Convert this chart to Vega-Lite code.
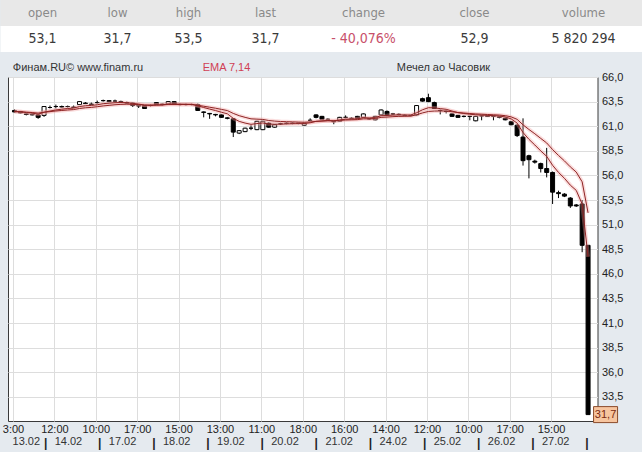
{
  "$schema": "https://vega.github.io/schema/vega-lite/v6.json",
  "background": "#e5eaef",
  "padding": 0,
  "autosize": {"type": "pad"},
  "spacing": 0,
  "bounds": "flush",
  "config": {
    "view": {"stroke": null},
    "text": {"font": "Liberation Sans"},
    "axis": {"labelFont": "Liberation Sans"}
  },
  "datasets": {
    "header": [
      {"c": 0, "label": "open", "value": "53,1"},
      {"c": 1, "label": "low", "value": "31,7"},
      {"c": 2, "label": "high", "value": "53,5"},
      {"c": 3, "label": "last", "value": "31,7"},
      {"c": 4, "label": "change", "value": "- 40,076%"},
      {"c": 5, "label": "close", "value": "52,9"},
      {"c": 6, "label": "volume", "value": "5 820 294"}
    ],
    "caption": [
      {"k": 0, "t": "Финам.RU©  www.finam.ru"},
      {"k": 1, "t": "EMA 7,14"},
      {"k": 2, "t": "Мечел ао Часовик"}
    ],
    "days": [
      {"date": "13.02", "mid": 2.8},
      {"date": "14.02", "mid": 9.8},
      {"date": "17.02", "mid": 18.8},
      {"date": "18.02", "mid": 27.8},
      {"date": "19.02", "mid": 36.8},
      {"date": "20.02", "mid": 45.8},
      {"date": "21.02", "mid": 54.8},
      {"date": "24.02", "mid": 63.8},
      {"date": "25.02", "mid": 72.8},
      {"date": "26.02", "mid": 81.8},
      {"date": "27.02", "mid": 90.8}
    ],
    "dayStarts": [
      {"start": 6}, {"start": 15}, {"start": 24}, {"start": 33}, {"start": 42}, {"start": 51},
      {"start": 60}, {"start": 69}, {"start": 78}, {"start": 87}, {"start": 96}
    ],
    "last": [{"i": 97, "v": 31.7, "t": "31,7"}],
    "candles": [
      {"i":0,"o":62.6,"h":62.7,"l":62.4,"c":62.45,"e7":62.49,"e14":62.49},
      {"i":1,"o":62.5,"h":62.55,"l":62.3,"c":62.35,"e7":62.46,"e14":62.47},
      {"i":2,"o":62.25,"h":62.3,"l":62.1,"c":62.2,"e7":62.39,"e14":62.43},
      {"i":3,"o":62.2,"h":62.3,"l":62.1,"c":62.15,"e7":62.33,"e14":62.39},
      {"i":4,"o":62.15,"h":62.2,"l":61.75,"c":61.9,"e7":62.22,"e14":62.33},
      {"i":5,"o":62.1,"h":63.0,"l":61.95,"c":63.0,"e7":62.42,"e14":62.42},
      {"i":6,"o":62.9,"h":63.1,"l":62.8,"c":62.9,"e7":62.54,"e14":62.48},
      {"i":7,"o":63.0,"h":63.2,"l":62.8,"c":63.0,"e7":62.65,"e14":62.55},
      {"i":8,"o":63.0,"h":63.1,"l":62.9,"c":62.95,"e7":62.73,"e14":62.6},
      {"i":9,"o":63.0,"h":63.1,"l":62.9,"c":63.0,"e7":62.8,"e14":62.65},
      {"i":10,"o":62.9,"h":63.1,"l":62.85,"c":62.95,"e7":62.84,"e14":62.69},
      {"i":11,"o":63.2,"h":63.55,"l":63.15,"c":63.5,"e7":63.0,"e14":62.8},
      {"i":12,"o":63.35,"h":63.45,"l":63.25,"c":63.3,"e7":63.08,"e14":62.87},
      {"i":13,"o":63.25,"h":63.4,"l":63.15,"c":63.2,"e7":63.11,"e14":62.91},
      {"i":14,"o":63.4,"h":63.6,"l":63.3,"c":63.4,"e7":63.18,"e14":62.98},
      {"i":15,"o":63.6,"h":63.7,"l":63.5,"c":63.6,"e7":63.29,"e14":63.06},
      {"i":16,"o":63.6,"h":63.65,"l":63.45,"c":63.5,"e7":63.34,"e14":63.12},
      {"i":17,"o":63.55,"h":63.7,"l":63.45,"c":63.55,"e7":63.39,"e14":63.18},
      {"i":18,"o":63.5,"h":63.6,"l":63.4,"c":63.45,"e7":63.41,"e14":63.22},
      {"i":19,"o":63.4,"h":63.5,"l":63.3,"c":63.35,"e7":63.39,"e14":63.24},
      {"i":20,"o":63.35,"h":63.4,"l":62.95,"c":63.1,"e7":63.32,"e14":63.22},
      {"i":21,"o":63.1,"h":63.2,"l":62.85,"c":63.05,"e7":63.25,"e14":63.2},
      {"i":22,"o":63.1,"h":63.15,"l":62.75,"c":62.8,"e7":63.14,"e14":63.15},
      {"i":23,"o":63.1,"h":63.2,"l":63.0,"c":63.1,"e7":63.13,"e14":63.14},
      {"i":24,"o":63.4,"h":63.45,"l":63.15,"c":63.2,"e7":63.15,"e14":63.15},
      {"i":25,"o":63.2,"h":63.3,"l":63.1,"c":63.25,"e7":63.17,"e14":63.16},
      {"i":26,"o":63.25,"h":63.55,"l":63.2,"c":63.5,"e7":63.25,"e14":63.21},
      {"i":27,"o":63.5,"h":63.55,"l":63.2,"c":63.25,"e7":63.25,"e14":63.21},
      {"i":28,"o":63.2,"h":63.3,"l":63.1,"c":63.2,"e7":63.24,"e14":63.21},
      {"i":29,"o":63.2,"h":63.3,"l":63.1,"c":63.2,"e7":63.23,"e14":63.21},
      {"i":30,"o":63.2,"h":63.3,"l":63.1,"c":63.2,"e7":63.22,"e14":63.21},
      {"i":31,"o":63.2,"h":63.3,"l":62.55,"c":62.6,"e7":63.07,"e14":63.13},
      {"i":32,"o":62.45,"h":62.5,"l":61.9,"c":62.4,"e7":62.9,"e14":63.03},
      {"i":33,"o":62.3,"h":62.35,"l":61.75,"c":62.25,"e7":62.74,"e14":62.93},
      {"i":34,"o":62.2,"h":62.25,"l":62.0,"c":62.15,"e7":62.59,"e14":62.83},
      {"i":35,"o":62.15,"h":62.2,"l":61.85,"c":61.9,"e7":62.42,"e14":62.71},
      {"i":36,"o":61.85,"h":61.9,"l":61.7,"c":61.8,"e7":62.26,"e14":62.59},
      {"i":37,"o":61.75,"h":61.8,"l":59.9,"c":60.4,"e7":61.8,"e14":62.3},
      {"i":38,"o":60.3,"h":60.6,"l":60.2,"c":60.55,"e7":61.49,"e14":62.07},
      {"i":39,"o":60.45,"h":60.85,"l":60.4,"c":60.8,"e7":61.32,"e14":61.9},
      {"i":40,"o":60.8,"h":61.1,"l":60.6,"c":60.8,"e7":61.19,"e14":61.75},
      {"i":41,"o":60.65,"h":61.55,"l":60.6,"c":61.5,"e7":61.27,"e14":61.72},
      {"i":42,"o":60.65,"h":61.55,"l":60.6,"c":61.5,"e7":61.33,"e14":61.69},
      {"i":43,"o":61.3,"h":61.4,"l":60.85,"c":60.9,"e7":61.22,"e14":61.58},
      {"i":44,"o":60.9,"h":61.2,"l":60.85,"c":61.15,"e7":61.2,"e14":61.52},
      {"i":45,"o":61.25,"h":61.35,"l":61.15,"c":61.25,"e7":61.21,"e14":61.48},
      {"i":46,"o":61.3,"h":61.4,"l":61.2,"c":61.3,"e7":61.23,"e14":61.46},
      {"i":47,"o":61.3,"h":61.4,"l":61.2,"c":61.3,"e7":61.25,"e14":61.44},
      {"i":48,"o":61.3,"h":61.35,"l":61.2,"c":61.3,"e7":61.26,"e14":61.42},
      {"i":49,"o":61.1,"h":61.35,"l":61.05,"c":61.3,"e7":61.27,"e14":61.4},
      {"i":50,"o":61.6,"h":61.8,"l":61.5,"c":61.6,"e7":61.35,"e14":61.43},
      {"i":51,"o":62.15,"h":62.2,"l":61.8,"c":61.9,"e7":61.49,"e14":61.49},
      {"i":52,"o":62.0,"h":62.05,"l":61.7,"c":61.7,"e7":61.54,"e14":61.52},
      {"i":53,"o":61.7,"h":61.8,"l":61.6,"c":61.7,"e7":61.58,"e14":61.55},
      {"i":54,"o":61.5,"h":61.55,"l":61.2,"c":61.45,"e7":61.55,"e14":61.54},
      {"i":55,"o":61.5,"h":61.95,"l":61.45,"c":61.9,"e7":61.64,"e14":61.59},
      {"i":56,"o":61.9,"h":62.1,"l":61.8,"c":61.9,"e7":61.71,"e14":61.63},
      {"i":57,"o":61.8,"h":61.9,"l":61.7,"c":61.8,"e7":61.73,"e14":61.65},
      {"i":58,"o":62.0,"h":62.05,"l":61.75,"c":61.8,"e7":61.75,"e14":61.67},
      {"i":59,"o":61.9,"h":62.3,"l":61.85,"c":62.25,"e7":61.87,"e14":61.75},
      {"i":60,"o":61.75,"h":61.85,"l":61.65,"c":61.75,"e7":61.84,"e14":61.75},
      {"i":61,"o":61.65,"h":62.05,"l":61.6,"c":62.0,"e7":61.88,"e14":61.78},
      {"i":62,"o":62.15,"h":62.7,"l":62.1,"c":62.65,"e7":62.07,"e14":61.9},
      {"i":63,"o":62.5,"h":62.6,"l":62.1,"c":62.15,"e7":62.09,"e14":61.93},
      {"i":64,"o":62.25,"h":62.35,"l":62.15,"c":62.25,"e7":62.13,"e14":61.97},
      {"i":65,"o":62.2,"h":62.3,"l":62.1,"c":62.2,"e7":62.15,"e14":62.0},
      {"i":66,"o":62.1,"h":62.2,"l":62.0,"c":62.1,"e7":62.14,"e14":62.01},
      {"i":67,"o":62.1,"h":62.15,"l":62.0,"c":62.1,"e7":62.13,"e14":62.02},
      {"i":68,"o":62.15,"h":63.15,"l":62.1,"c":63.1,"e7":62.37,"e14":62.16},
      {"i":69,"o":63.8,"h":63.9,"l":63.5,"c":63.55,"e7":62.67,"e14":62.35},
      {"i":70,"o":63.9,"h":64.3,"l":63.45,"c":63.5,"e7":62.88,"e14":62.5},
      {"i":71,"o":63.4,"h":63.5,"l":62.75,"c":62.8,"e7":62.86,"e14":62.54},
      {"i":72,"o":62.6,"h":62.7,"l":62.2,"c":62.6,"e7":62.79,"e14":62.55},
      {"i":73,"o":62.5,"h":62.6,"l":62.3,"c":62.5,"e7":62.72,"e14":62.54},
      {"i":74,"o":62.25,"h":62.3,"l":61.95,"c":62.0,"e7":62.54,"e14":62.47},
      {"i":75,"o":62.1,"h":62.15,"l":61.85,"c":61.9,"e7":62.38,"e14":62.39},
      {"i":76,"o":62.0,"h":62.1,"l":61.9,"c":62.0,"e7":62.29,"e14":62.34},
      {"i":77,"o":62.0,"h":62.05,"l":61.6,"c":62.0,"e7":62.22,"e14":62.29},
      {"i":78,"o":61.55,"h":62.05,"l":61.5,"c":62.0,"e7":62.16,"e14":62.25},
      {"i":79,"o":62.05,"h":62.15,"l":61.6,"c":62.05,"e7":62.13,"e14":62.22},
      {"i":80,"o":62.05,"h":62.1,"l":61.95,"c":62.0,"e7":62.1,"e14":62.19},
      {"i":81,"o":62.0,"h":62.1,"l":61.6,"c":62.0,"e7":62.08,"e14":62.16},
      {"i":82,"o":61.95,"h":62.0,"l":61.8,"c":61.9,"e7":62.03,"e14":62.13},
      {"i":83,"o":61.8,"h":61.9,"l":61.6,"c":61.65,"e7":61.94,"e14":62.07},
      {"i":84,"o":61.45,"h":61.5,"l":61.1,"c":61.15,"e7":61.74,"e14":61.95},
      {"i":85,"o":61.1,"h":61.2,"l":59.9,"c":60.05,"e7":61.32,"e14":61.7},
      {"i":86,"o":59.9,"h":61.8,"l":57.0,"c":57.5,"e7":60.36,"e14":61.14},
      {"i":87,"o":58.0,"h":58.1,"l":55.7,"c":57.6,"e7":59.67,"e14":60.67},
      {"i":88,"o":57.45,"h":57.6,"l":57.2,"c":57.35,"e7":59.09,"e14":60.23},
      {"i":89,"o":57.2,"h":57.3,"l":56.3,"c":56.7,"e7":58.49,"e14":59.76},
      {"i":90,"o":56.7,"h":58.8,"l":55.8,"c":56.3,"e7":57.94,"e14":59.3},
      {"i":91,"o":56.3,"h":56.4,"l":53.1,"c":54.3,"e7":57.03,"e14":58.63},
      {"i":92,"o":54.25,"h":54.45,"l":53.7,"c":54.15,"e7":56.31,"e14":58.03},
      {"i":93,"o":54.1,"h":54.2,"l":53.8,"c":53.9,"e7":55.71,"e14":57.48},
      {"i":94,"o":53.7,"h":53.8,"l":52.7,"c":52.9,"e7":55.01,"e14":56.87},
      {"i":95,"o":53.0,"h":53.1,"l":52.8,"c":52.9,"e7":54.48,"e14":56.34},
      {"i":96,"o":53.1,"h":53.5,"l":48.2,"c":48.9,"e7":53.09,"e14":55.35},
      {"i":97,"o":48.9,"h":48.9,"l":31.7,"c":31.7,"e7":47.74,"e14":52.2}
    ]
  },
  "vconcat": [
    {
      "width": 589.5,
      "height": 52,
      "layer": [
        {
          "data": {"values": [{"row": "label"}, {"row": "value"}]},
          "mark": {"type": "rect"},
          "encoding": {
            "x": {"datum": -1, "type": "quantitative", "scale": {"domain": [-1, 0, 1, 2, 3, 4, 5, 6, 7], "range": [-7.5, 34.5, 109.5, 180.5, 257.5, 355.5, 466.5, 575.5, 634.5]}, "axis": null},
            "x2": {"datum": 7},
            "y": {"field": "row", "type": "nominal", "scale": {"domain": ["label", "value"], "paddingInner": 0, "paddingOuter": 0}, "axis": null},
            "fill": {"field": "row", "type": "nominal", "scale": {"domain": ["label", "value"], "range": ["#e8e8e8", "#ffffff"]}, "legend": null}
          }
        },
        {
          "data": {"name": "header"},
          "mark": {"type": "text", "font": "Liberation Sans Narrow, DejaVu Sans Condensed, sans-serif", "fontSize": 13, "color": "#8a8a8a"},
          "encoding": {
            "x": {"field": "c", "type": "quantitative", "scale": {"domain": [-1, 0, 1, 2, 3, 4, 5, 6, 7], "range": [-7.5, 34.5, 109.5, 180.5, 257.5, 355.5, 466.5, 575.5, 634.5]}, "axis": null},
            "y": {"datum": "label", "type": "nominal"},
            "text": {"field": "label"}
          }
        },
        {
          "data": {"name": "header"},
          "mark": {"type": "text", "font": "Liberation Sans Narrow, DejaVu Sans Condensed, sans-serif", "fontSize": 14},
          "encoding": {
            "x": {"field": "c", "type": "quantitative", "scale": {"domain": [-1, 0, 1, 2, 3, 4, 5, 6, 7], "range": [-7.5, 34.5, 109.5, 180.5, 257.5, 355.5, 466.5, 575.5, 634.5]}, "axis": null},
            "y": {"datum": "value", "type": "nominal"},
            "text": {"field": "value"},
            "color": {"condition": {"test": "datum.label === 'change'", "value": "#c8506a"}, "value": "#3a3a3a"}
          }
        }
      ]
    },
    {
      "width": 589.5,
      "height": 25,
      "data": {"name": "caption"},
      "mark": {"type": "text", "fontSize": 11, "dy": 3.5},
      "encoding": {
        "x": {"field": "k", "type": "quantitative", "scale": {"domain": [0, 1, 2], "range": [70, 218.5, 435.5]}, "axis": null},
        "text": {"field": "t"},
        "color": {"condition": {"test": "datum.k === 1", "value": "#d04055"}, "value": "#333333"}
      }
    },
    {
      "width": 589.5,
      "height": 344,
      "view": {"fill": "#ffffff", "stroke": "#3a3a3a", "strokeWidth": 1},
      "data": {"name": "candles"},
      "encoding": {
        "x": {
          "field": "i",
          "type": "quantitative",
          "scale": {"domain": [-0.25, 97.75], "nice": false, "zero": false},
          "axis": {
            "values": [-0.25, 6.75, 13.75, 20.75, 27.75, 34.75, 41.75, 48.75, 55.75, 62.75, 69.75, 76.75, 83.75, 90.75],
            "tickCount": 30,
            "labelExpr": "['3:00','12:00','10:00','17:00','15:00','13:00','11:00','18:00','16:00','14:00','12:00','10:00','17:00','15:00'][round((datum.value + 0.25) / 7)]",
            "title": null,
            "domain": false,
            "ticks": false,
            "grid": true,
            "gridColor": "#dddddd",
            "labelFontSize": 11,
            "labelColor": "#222222",
            "labelPadding": 2,
            "labelFlush": true,
            "labelFlushOffset": 5.5,
            "labelOverlap": false
          }
        }
      },
      "layer": [
        {
          "mark": {"type": "rule", "color": "#000000", "strokeWidth": 1},
          "encoding": {
            "y": {
              "field": "l",
              "type": "quantitative",
              "title": null,
              "scale": {"domain": [31.05, 66], "nice": false, "zero": false},
              "axis": {
                "orient": "right",
                "values": [33.5, 36, 38.5, 41, 43.5, 46, 48.5, 51, 53.5, 56, 58.5, 61, 63.5, 66],
                "tickCount": 30,
                "labelExpr": "replace(format(datum.value, '.1f'), '.', ',')",
                "title": null,
                "domain": false,
                "ticks": false,
                "grid": true,
                "gridColor": "#dddddd",
                "labelFontSize": 11,
                "labelColor": "#222222",
                "labelPadding": 4,
                "labelOverlap": false,
                "labelFlush": false,
                "labelBound": false
              }
            },
            "y2": {"field": "h"}
          }
        },
        {
          "mark": {"type": "bar", "size": 4, "stroke": "#000000", "strokeWidth": 1},
          "encoding": {
            "y": {"field": "o", "type": "quantitative", "title": null},
            "y2": {"field": "c"},
            "fill": {"condition": {"test": "datum.c < datum.o", "value": "#000000"}, "value": "#ffffff"}
          }
        },
        {
          "mark": {"type": "line", "color": "#f09a9a", "strokeWidth": 4, "opacity": 0.35},
          "encoding": {"y": {"field": "e14", "type": "quantitative", "title": null}}
        },
        {
          "mark": {"type": "line", "color": "#f09a9a", "strokeWidth": 4, "opacity": 0.35},
          "encoding": {"y": {"field": "e7", "type": "quantitative", "title": null}}
        },
        {
          "mark": {"type": "line", "color": "#8e2424", "strokeWidth": 1},
          "encoding": {"y": {"field": "e14", "type": "quantitative", "title": null}}
        },
        {
          "mark": {"type": "line", "color": "#8e2424", "strokeWidth": 1},
          "encoding": {"y": {"field": "e7", "type": "quantitative", "title": null}}
        },
        {
          "data": {"name": "last"},
          "mark": {"type": "point", "shape": "M0.22,-0.32H1.18V0.32H0.22Z", "size": 2500, "filled": true, "fill": "#f7c59f", "stroke": "#8a4a2a", "strokeWidth": 1, "opacity": 1},
          "encoding": {"y": {"field": "v", "type": "quantitative", "title": null}}
        },
        {
          "data": {"name": "last"},
          "mark": {"type": "text", "dx": 17.5, "align": "center", "baseline": "middle", "fontSize": 11, "color": "#7a2a10"},
          "encoding": {"y": {"field": "v", "type": "quantitative", "title": null}, "text": {"field": "t"}}
        }
      ]
    },
    {
      "width": 589.5,
      "height": 31,
      "view": {"fill": "transparent", "stroke": null},
      "layer": [
        {
          "data": {"name": "days"},
          "mark": {"type": "text", "fontSize": 11, "color": "#333333", "dy": 5.5},
          "encoding": {
            "x": {"field": "mid", "type": "quantitative", "scale": {"domain": [-0.25, 97.75], "nice": false, "zero": false}, "axis": null},
            "text": {"field": "date"}
          }
        },
        {
          "data": {"name": "dayStarts"},
          "mark": {"type": "text", "text": "|", "fontSize": 12, "fontWeight": "bold", "color": "#222222", "dy": 6},
          "encoding": {
            "x": {"field": "start", "type": "quantitative", "scale": {"domain": [-0.25, 97.75], "nice": false, "zero": false}, "axis": null}
          }
        }
      ]
    }
  ]
}
